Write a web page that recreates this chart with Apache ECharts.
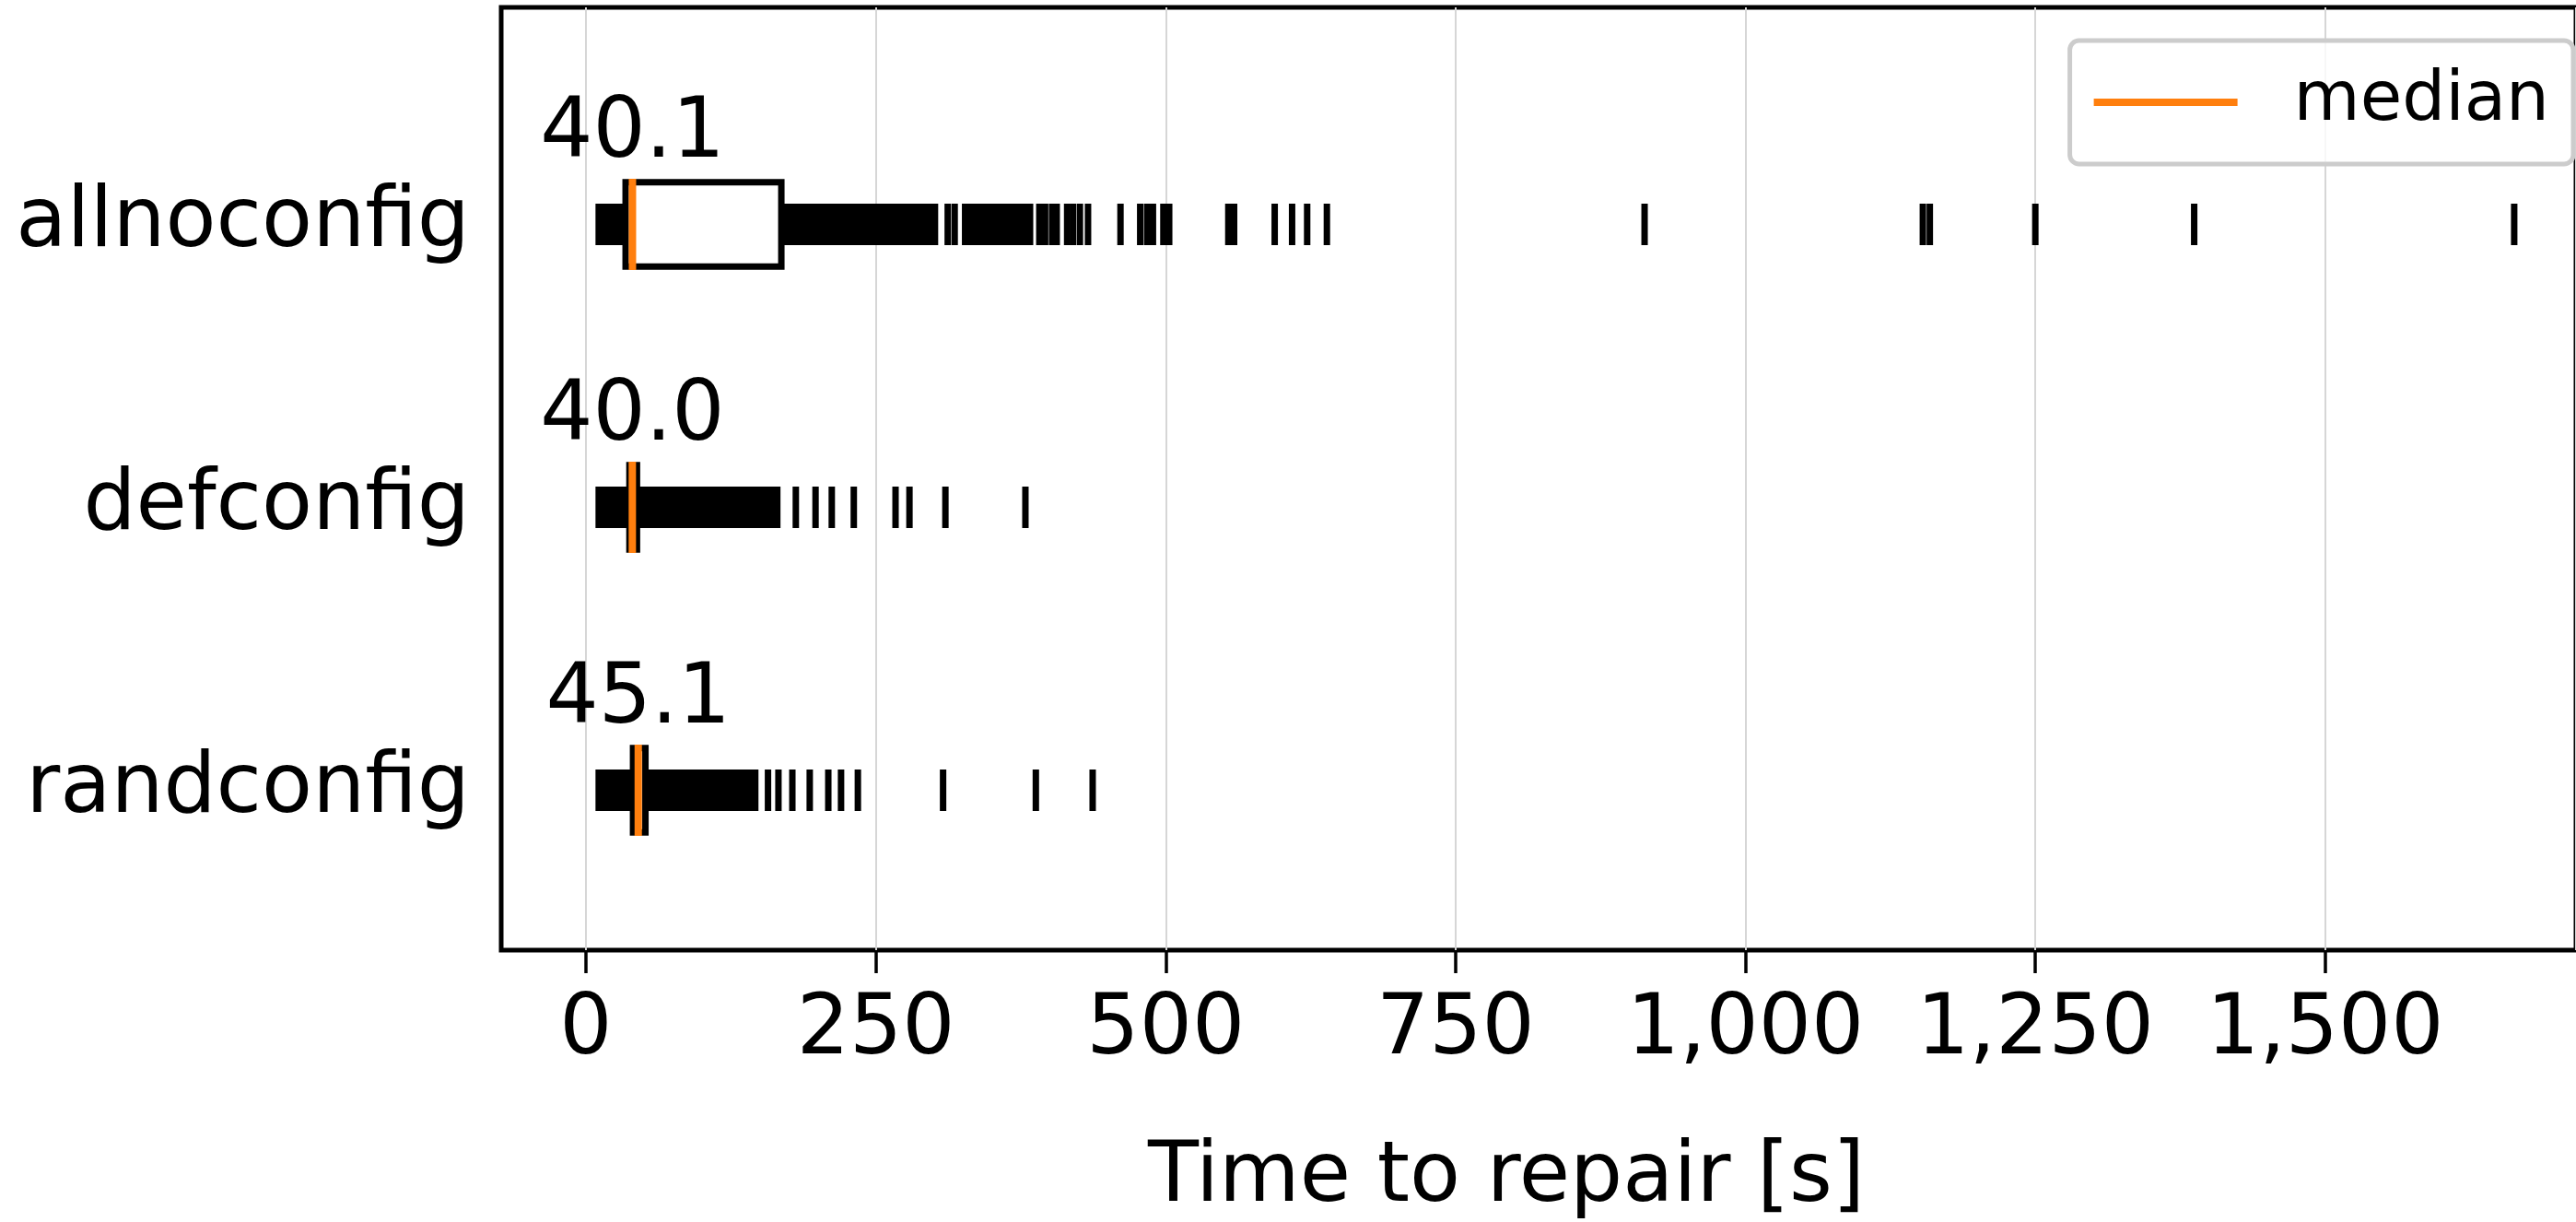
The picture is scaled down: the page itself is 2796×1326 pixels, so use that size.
<!DOCTYPE html>
<html><head><meta charset="utf-8">
<script src="https://cdn.jsdelivr.net/npm/echarts@6/dist/echarts.min.js"></script>
<style>html,body{margin:0;padding:0;background:#fff}#c{width:2796px;height:1326px}</style>
</head><body><div id="c"></div>
<script>
// ---- data ----
const categories = ['randconfig', 'defconfig', 'allnoconfig'];
const q1 = [40.6, 37.5, 34.2];
const q3 = [51.3, 44.0, 168.5];
const medians = [45.1, 40.0, 40.1];
// dense runs of outlier markers, [from, to] (marker centres)
const denseRuns = [
  [[11, 146]],
  [[11, 165]],
  [[11, 301], [327, 383]]
];
// individual outlier markers
const fliers = [
  [157, 166, 178, 193, 209, 220, 234.5, 308, 388, 437],
  [181, 198, 212, 231, 267, 279, 310, 379],
  [312, 318, 391, 396, 402, 406, 415, 420, 426, 433, 461, 478, 484, 489, 498, 503,
   554, 559, 594, 609, 622, 639, 913, 1153, 1159, 1250, 1387, 1663]
];
const xTickStep = 250;
const xMax = 1716.3;
const xTitle = 'Time to repair [s]';
const legendLabel = 'median';

// ---- build series data ----
const runData = [], flierData = [], boxData = [], medData = [];
categories.forEach((c, i) => {
  denseRuns[i].forEach(r => runData.push([i, r[0], r[1]]));
  fliers[i].forEach(v => flierData.push([i, v]));
  boxData.push([i, q1[i], q3[i]]);
  medData.push([i, medians[i]]);
});

const FONT = '"DejaVu Sans", "Liberation Sans", sans-serif';
const MARK_W = 7, MARK_H = 45, BOX_H = 91.5, BOX_LW = 7, MED_H = 99, MED_LW = 8;

const chart = echarts.init(document.getElementById('c'), null, {renderer: 'canvas'});
chart.setOption({
  animation: false,
  backgroundColor: '#fff',
  title: {
    text: xTitle, left: 1630, top: 1230, textAlign: 'center',
    textStyle: {fontFamily: FONT, fontSize: 90, fontWeight: 'normal', color: '#000'}
  },
  legend: {
    data: [legendLabel], right: 3, top: 44, icon: 'rect', itemWidth: 156, itemHeight: 8,
    padding: [30, 26, 30, 26], borderColor: '#cccccc', borderWidth: 5, borderRadius: 10,
    backgroundColor: 'rgba(255,255,255,0.8)', selectedMode: false,
    textStyle: {fontFamily: FONT, fontSize: 74, color: '#000', lineHeight: 74, padding: [0, 0, 0, 56]}
  },
  grid: [
    {left: 544, top: 8, right: -20, bottom: 295, show: true, borderColor: '#000', borderWidth: 5, backgroundColor: 'transparent'},
    {left: 636, top: 8, right: 0, bottom: 295},
    {left: 636, top: 90, right: 0, height: 921}
  ],
  xAxis: [
    {gridIndex: 0, type: 'value', show: false, min: 0, max: 1},
    {gridIndex: 1, type: 'value', min: 0, max: xMax, interval: xTickStep,
      axisLine: {show: false},
      axisTick: {show: true, length: 25, lineStyle: {color: '#000', width: 3.5}},
      axisLabel: {fontFamily: FONT, fontSize: 90, color: '#000', margin: 44, showMaxLabel: false,
        formatter: v => v.toLocaleString('en-US')},
      splitLine: {show: true, lineStyle: {color: '#d6d6d6', width: 2}}
    },
    {gridIndex: 2, type: 'value', show: false, min: 0, max: xMax}
  ],
  yAxis: [
    {gridIndex: 0, type: 'value', show: false, min: 0, max: 1},
    {gridIndex: 1, type: 'value', show: false, min: 0, max: 1},
    {gridIndex: 2, type: 'category', data: categories,
      axisLine: {show: false}, axisTick: {show: false}, splitLine: {show: false},
      axisLabel: {fontFamily: FONT, fontSize: 90, color: '#000', margin: 126, padding: [0, 0, 32, 0]}
    }
  ],
  series: [
    {
      name: 'outliers', type: 'custom', xAxisIndex: 2, yAxisIndex: 2, z: 3, data: runData,
      encode: {x: [1, 2], y: 0},
      renderItem: (params, api) => {
        const c = api.value(0);
        const a = api.coord([api.value(1), c]);
        const b = api.coord([api.value(2), c]);
        return {type: 'rect', shape: {x: a[0] - MARK_W / 2, y: a[1] - MARK_H / 2, width: b[0] - a[0] + MARK_W, height: MARK_H},
          style: {fill: '#000'}};
      }
    },
    {
      name: 'outliers', type: 'custom', xAxisIndex: 2, yAxisIndex: 2, z: 3, data: flierData,
      encode: {x: 1, y: 0},
      renderItem: (params, api) => {
        const p = api.coord([api.value(1), api.value(0)]);
        return {type: 'rect', shape: {x: p[0] - MARK_W / 2, y: p[1] - MARK_H / 2, width: MARK_W, height: MARK_H},
          style: {fill: '#000'}};
      }
    },
    {
      name: 'box', type: 'custom', xAxisIndex: 2, yAxisIndex: 2, z: 4, data: boxData,
      encode: {x: [1, 2], y: 0},
      renderItem: (params, api) => {
        const c = api.value(0);
        const a = api.coord([api.value(1), c]);
        const b = api.coord([api.value(2), c]);
        return {type: 'rect', shape: {x: a[0], y: a[1] - BOX_H / 2, width: b[0] - a[0], height: BOX_H},
          style: {fill: '#fff', stroke: '#000', lineWidth: BOX_LW}};
      }
    },
    {
      name: legendLabel, type: 'custom', xAxisIndex: 2, yAxisIndex: 2, z: 5, data: medData,
      itemStyle: {color: '#ff7f0e'},
      encode: {x: 1, y: 0},
      renderItem: (params, api) => {
        const v = api.value(1);
        const p = api.coord([v, api.value(0)]);
        return {type: 'group', children: [
          {type: 'line', shape: {x1: p[0], y1: p[1] - MED_H / 2, x2: p[0], y2: p[1] + MED_H / 2},
            style: {stroke: '#ff7f0e', lineWidth: MED_LW}},
          {type: 'text', x: p[0], y: p[1] - 52,
            style: {text: v.toFixed(1), fontFamily: FONT, fontSize: 90, fill: '#000', align: 'center', verticalAlign: 'bottom'}}
        ]};
      }
    }
  ]
});
</script></body></html>
